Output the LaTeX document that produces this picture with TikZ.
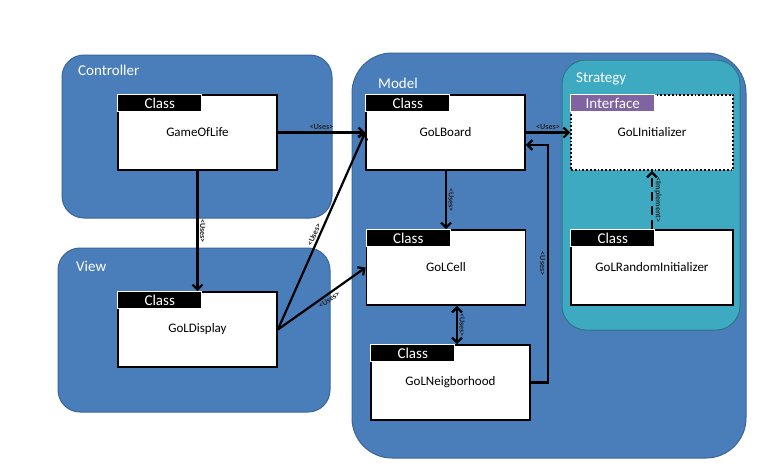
\documentclass[tikz,border=0pt]{standalone}
\usepackage{fontspec}
\setmainfont{Carlito}
\usetikzlibrary{arrows.meta}
\definecolor{pkgblue}{HTML}{4A7EBB}
\definecolor{pkgline}{HTML}{3A6698}
\definecolor{stratteal}{HTML}{3DAAC2}
\definecolor{ifpurple}{HTML}{8064A2}
\tikzset{
  pkg/.style={draw=pkgline, fill=pkgblue, line width=1pt, rounded corners=22pt},
  pkgname/.style={anchor=north west, text=white, font=\fontsize{15}{15}\selectfont, inner sep=0pt},
  cls/.style={draw=black, fill=white, line width=1.8pt, minimum width=159pt, minimum height=75pt,
    font=\fontsize{13}{13}\selectfont, inner sep=0pt},
  hdr/.style={anchor=north west, fill=black, draw=white, line width=1.2pt, text=white,
    minimum width=84pt, minimum height=17pt, inner sep=0pt, font=\fontsize{15}{15}\selectfont},
  uses/.style={line width=2.2pt, -{Straight Barb[length=5pt,width=10pt]}},
  lbl/.style={font=\bfseries\fontsize{8}{8}\selectfont, inner sep=1.5pt, text=black!85}
}
\begin{document}
\begin{tikzpicture}[x=1pt, y=-1pt]
\useasboundingbox (0,0) rectangle (784,467);
% packages
\draw[pkg] (62,55) rectangle (332,218);
\node[pkgname] (ctrlname) at (78,65) {Controller};
\draw[pkg] (58,248) rectangle (330,412);
\node[pkgname] (viewname) at (76,261) {View};
\draw[pkg, rounded corners=40pt] (352,53) rectangle (746,458);
\node[pkgname] (modelname) at (378,78) {Model};
\draw[pkg, fill=stratteal, draw=stratteal!70!black, rounded corners=24pt] (562,60) rectangle (740,330);
\node[pkgname] (stratname) at (576,73) {Strategy};
% classes
\node[cls] (life) at (197.5,132.5) {GameOfLife};
\node[hdr] (lifeh) at (life.north west) {Class};
\node[cls] (disp) at (197.5,329.5) {GoLDisplay};
\node[hdr] (disph) at (disp.north west) {Class};
\node[cls] (board) at (445.5,132.5) {GoLBoard};
\node[hdr] (boardh) at (board.north west) {Class};
\node[cls] (cell) at (446,267.5) {GoLCell};
\node[hdr] (cellh) at (cell.north west) {Class};
\node[cls] (neigh) at (450.5,382.5) {GoLNeigborhood};
\node[hdr] (neighh) at (neigh.north west) {Class};
\node[cls, minimum width=162pt, dotted] (init) at (652,132.5) {GoLInitializer};
\node[hdr, fill=ifpurple] (inith) at (init.north west) {Interface};
\node[cls, minimum width=162pt] (rand) at (652,267.5) {GoLRandomInitializer};
\node[hdr] (randh) at (rand.north west) {Class};
% relations
\draw[uses] (life.east) -- (board.west |- life.east) node[lbl, midway, above] {<Uses>};
\draw[uses] (life.south) -- (disp.north) node[lbl, midway, rotate=-90, anchor=south] {<Uses>};
\draw[uses] (disp.east) -- (board.west) node[lbl, pos=0.47, sloped, above] {<Uses>};
\draw[uses] (disp.east) -- (cell.west) node[lbl, pos=0.55, sloped, below] {<Uses>};
\draw[uses] (board.east) -- (init.west) node[lbl, midway, above] {<Uses>};
\draw[uses] (board.south -| cell.north) -- (cell.north) node[lbl, midway, rotate=-90, anchor=south] {<Uses>};
\draw[uses, {Straight Barb[length=5pt,width=10pt]}-{Straight Barb[length=5pt,width=10pt]}]
  ([xshift=11pt]cell.south) -- ([xshift=6.5pt]neigh.north) node[lbl, midway, rotate=-90, anchor=south] {<Uses>};
\coordinate (ret1) at (548,382.5);
\coordinate (ret2) at (548,145);
\draw[uses] (neigh.east) -- (ret1) -- (ret2) node[lbl, pos=0.5, rotate=-90, anchor=north] {<Uses>} -- (board.east |- ret2);
\draw[uses, dash pattern=on 9pt off 5pt] (rand.north) -- (init.south) node[lbl, midway, rotate=-90, anchor=south] {<Implement>};
\end{tikzpicture}
\end{document}
